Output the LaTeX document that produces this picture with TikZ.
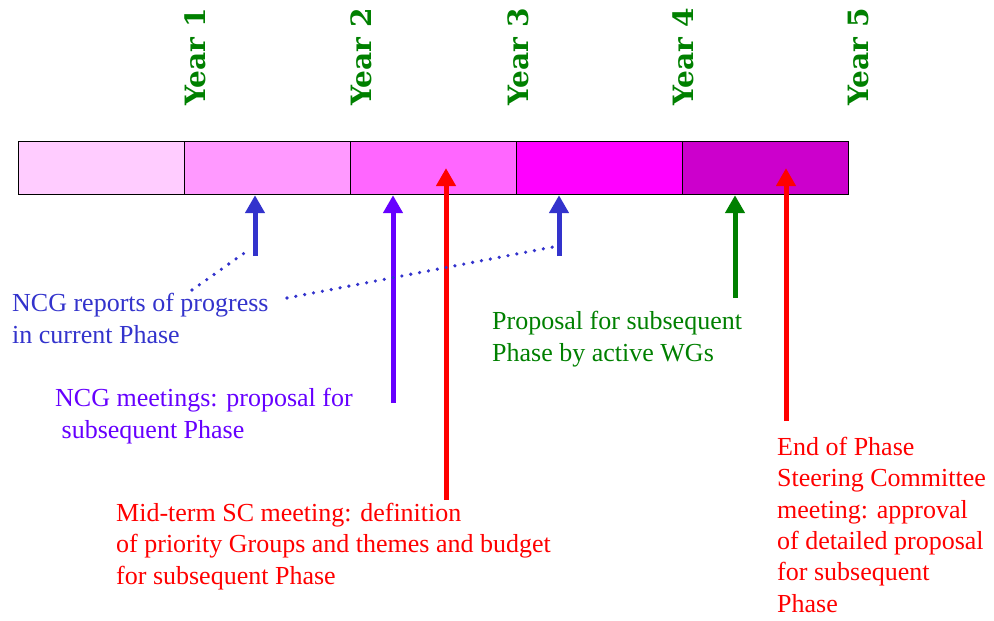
\documentclass[tikz,border=0pt]{standalone}
\usepackage{fontspec}
\setmainfont{Liberation Serif}
\newfontfamily\anneefont{DejaVu Serif}
\usetikzlibrary{arrows.meta}
\newcommand{\seg}{166}
\newcommand{\hb}{53}
\definecolor{bleuncg}{HTML}{3333CC}
\definecolor{violetncg}{HTML}{6600FF}
\definecolor{vertan}{HTML}{008000}
\definecolor{rougesc}{HTML}{FF0000}
\tikzstyle{bord}=[line width=1.2pt]
\tikzstyle{fleche}=[line width=5pt,-{Triangle[width=19pt,length=18pt]}]
\tikzstyle{pointille}=[line width=3.6pt,line cap=round,dash pattern=on 0pt off 9pt]
\tikzstyle{texte}=[anchor=base west,align=left,inner sep=0,font=\fontsize{26}{31.3}\selectfont]
\tikzstyle{annee}=[rotate=90,anchor=base west,inner sep=0,vertan,font=\anneefont\bfseries\fontsize{28}{30}\selectfont]
\begin{document}
\begin{tikzpicture}[x=1pt,y=-1pt]
\useasboundingbox (0,0) rectangle (994,621);

%barre
\foreach \I/\c in {1/FFCCFF,2/FF99FF,3/FF66FF,4/FF00FF,5/CC00CC}
{\definecolor{segc}{HTML}{\c}
\node[draw,bord,fill=segc,minimum width=\seg pt,minimum height=\hb pt,inner sep=0,anchor=north west](S\I) at (18+\seg*\I-\seg,141) {};
}

%annees
\foreach \I/\x in {1/205,2/371,3/528,4/693,5/868}
\node[annee](Y\I) at (\x,106) {Year \I};

%textes (base = derniere ligne)
\node[texte,bleuncg](rapports) at (12,343) {NCG reports of progress\\in current Phase};
\node[texte,violetncg](reunions) at (55,438) {NCG meetings: proposal for\\~subsequent Phase};
\node[texte,vertan](proposition) at (492,361) {Proposal for subsequent\\Phase by active WGs};
\node[texte,rougesc](miterme) at (116,584) {Mid-term SC meeting: definition\\of priority Groups and themes and budget\\for subsequent Phase};
\node[texte,rougesc](finphase) at (777,612) {End of Phase\\Steering Committee\\meeting: approval\\of detailed proposal\\for subsequent\\Phase};

%fleches
\coordinate (qA) at (255,256);
\coordinate (qB) at (393,403);
\coordinate (qC) at (446,500);
\coordinate (qD) at (559,256);
\coordinate (qE) at (735,298);
\coordinate (qF) at (786,421);
\draw[fleche,bleuncg] (qA) -- (qA |- S2.south);
\draw[fleche,violetncg] (qB) -- (qB |- S3.south);
\draw[fleche,rougesc] (qC) -- (qC |- S3.center);
\draw[fleche,bleuncg] (qD) -- (qD |- S4.south);
\draw[fleche,vertan] (qE) -- (qE |- S5.south);
\draw[fleche,rougesc] (qF) -- (qF |- S5.center);

%pointilles
\coordinate (dA) at (192,290);
\coordinate (dB) at (287,298);
\coordinate (fA) at (250,249);
\coordinate (fB) at (553,247);
\draw[pointille,bleuncg] (dA) -- (fA);
\draw[pointille,bleuncg] (dB) -- (fB);
\end{tikzpicture}
\end{document}
